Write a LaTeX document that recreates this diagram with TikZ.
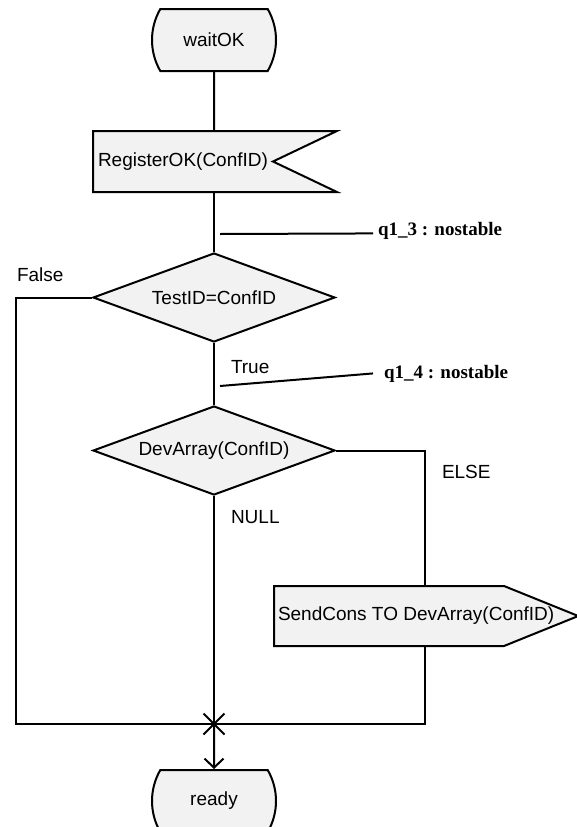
\documentclass[tikz,border=0pt]{standalone}
\usepackage{fontspec}
\setmainfont{Liberation Sans}
\newfontfamily\annotfont{Liberation Serif}
\usetikzlibrary{shapes,shapes.geometric,shapes.symbols,shapes.misc}
\usetikzlibrary{arrows.meta,positioning}

\begin{document}
\begin{tikzpicture}[x=1pt, y=-1pt, line width=2pt, >={Straight Barb[length=9pt,width=19pt]},
    every node/.style = {font=\fontsize{19}{23}\selectfont},
    state/.style = {draw, fill=black!5, rounded rectangle, rounded rectangle arc length=60, minimum width=122pt, minimum height=62pt},
    input/.style = {draw, fill=black!5, signal, signal to=nowhere, signal from=east, signal pointer angle=51, minimum height=61pt, inner xsep=5pt},
    output/.style = {draw, fill=black!5, signal, signal to=east, signal pointer angle=44, minimum height=60pt, inner xsep=4pt},
    decision/.style = {draw, fill=black!5, diamond, aspect=2.7, inner sep=1pt, minimum width=242pt, minimum height=89pt},
    branch/.style = {inner sep=0pt, anchor=west},
    comment/.style = {font=\annotfont\bfseries\fontsize{19}{23}\selectfont, inner sep=4pt, anchor=base west},]
    \useasboundingbox (0,0) rectangle (577,827);
    \node [state] (wait_ok) at (214,40) {waitOK};
    \node [input, anchor=west] (register_ok) at (92,161.5) {RegisterOK(ConfID)};
    \node [decision] (test_id) at (214,297.5) {TestID=ConfID};
    \node [decision, below=62pt of test_id] (dev_array) {DevArray(ConfID)};
    \node [output, anchor=west] (send_cons) at (273,616) {\makebox[222pt][l]{SendCons TO DevArray(ConfID)}};
    \node [state, below=273pt of dev_array] (ready) {ready};
    \coordinate [above=45pt of ready] (merge);
    \coordinate (left_rail) at (16,0);
    \coordinate (right_rail) at (425,0);
    \node [branch] (false_lbl) at (16,275) {False};
    \node [branch] (true_lbl) at (230,367) {True};
    \node [branch] (null_lbl) at (230,517) {NULL};
    \node [branch] (else_lbl) at (441,472) {ELSE};
    \node [comment] (q1_3) at (373,235) {q1\_3 : nostable};
    \node [comment] (q1_4) at (379,378) {q1\_4 : nostable};
    \coordinate (q1_3_foot) at (220,234);
    \coordinate (q1_4_foot) at (220,386);
    \draw (wait_ok) -- (wait_ok |- register_ok.north);
    \draw (wait_ok |- register_ok.south) -- (test_id);
    \draw (test_id) -- (dev_array);
    \draw (dev_array) -- (merge);
    \draw[->] (merge) -- (ready);
    \draw (test_id.west) -| (left_rail |- merge) -- (merge);
    \draw (dev_array.east) -| (right_rail |- send_cons.north);
    \draw (right_rail |- send_cons.south) |- (merge);
    \node [draw, cross out, minimum size=19pt, inner sep=0pt] (merge_x) at (merge) {};
    \draw (q1_3_foot) -- ([yshift=-3pt]q1_3.west);
    \draw (q1_4_foot) -- ([xshift=-6pt]q1_4.west);
  \end{tikzpicture}
\end{document}
